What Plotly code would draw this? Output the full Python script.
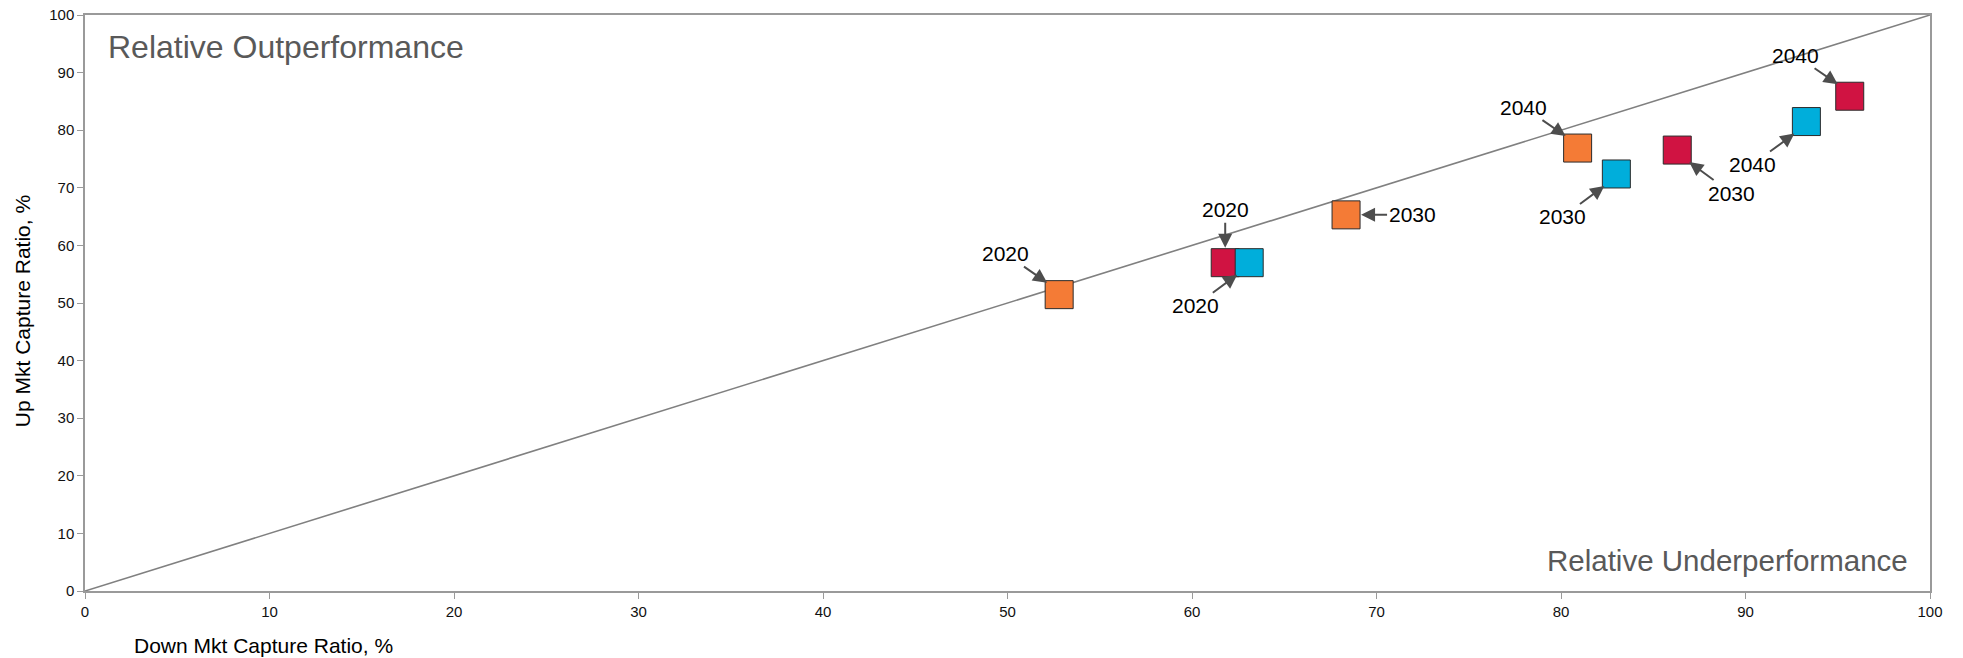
import plotly.graph_objects as go

# ---- data ----
years = ["2020", "2030", "2040"]
orange_down = [52.8, 68.35, 80.9]
orange_up = [51.45, 65.3, 76.9]
red_down = [61.8, 86.3, 95.65]
red_up = [57.0, 76.55, 85.9]
blue_down = [63.1, 83.0, 93.3]
blue_up = [57.0, 72.4, 81.5]
x_ticks = [0, 10, 20, 30, 40, 50, 60, 70, 80, 90, 100]
y_ticks = [0, 10, 20, 30, 40, 50, 60, 70, 80, 90, 100]

# ---- styles ----
ORANGE = "#F47B36"
RED = "#D01342"
BLUE = "#00AEDB"
FONT = "Liberation Sans, Arial, sans-serif"

# label placements (tip offset from marker centre, text offset from tip), px
label_pos = {
    "orange": [(-12, -12, -42, -29), (15, 0, 51, 0), (-12, -12, -42, -29)],
    "red": [(0, -15, 0, -38), (12, 12, 42, 31), (-12, -12, -42, -29)],
    "blue": [(-12, 12, -42, 31), (-12, 12, -42, 31), (-12, 12, -42, 31)],
}

series = [
    ("orange", "Series 1", orange_down, orange_up, ORANGE),
    ("red", "Series 2", red_down, red_up, RED),
    ("blue", "Series 3", blue_down, blue_up, BLUE),
]

fig = go.Figure()
annotations = []
for key, name, xs, ys, col in series:
    fig.add_trace(go.Scatter(
        x=xs, y=ys, mode="markers", name=name, text=years,
        marker=dict(symbol="square", size=28, color=col,
                    line=dict(color="#2b2b2b", width=1)),
        hovertemplate="%{text}: (%{x}, %{y})<extra>" + name + "</extra>",
    ))
    for i, yr in enumerate(years):
        dx, dy, ax, ay = label_pos[key][i]
        annotations.append(dict(
            x=xs[i], y=ys[i], xref="x", yref="y", text=yr,
            xshift=dx, yshift=-dy, ax=ax, ay=ay,
            showarrow=True, arrowhead=2, arrowsize=1.4, arrowwidth=2,
            arrowcolor="#4d4d4d", standoff=0,
            font=dict(family=FONT, size=21, color="#000000"),
        ))

annotations += [
    dict(text="Relative Outperformance", xref="paper", yref="paper",
         x=0.0114, y=0.944, xanchor="left", yanchor="middle", showarrow=False,
         font=dict(family=FONT, size=32, color="#595959")),
    dict(text="Relative Underperformance", xref="paper", yref="paper",
         x=0.989, y=0.0538, xanchor="right", yanchor="middle", showarrow=False,
         font=dict(family=FONT, size=29.5, color="#595959")),
    dict(text="Up Mkt Capture Ratio, %", xref="paper", yref="paper",
         x=-0.0341, y=0.486, xanchor="center", yanchor="middle", textangle=-90,
         showarrow=False, font=dict(family=FONT, size=21, color="#000000")),
    dict(text="Down Mkt Capture Ratio, %", xref="paper", yref="paper",
         x=0.097, y=-0.094, xanchor="center", yanchor="middle",
         showarrow=False, font=dict(family=FONT, size=21, color="#000000")),
]

fig.add_shape(type="line", xref="x", yref="y", x0=0, y0=0, x1=100, y1=100,
              line=dict(color="#808080", width=1.6), layer="below")

axis_common = dict(
    range=[0, 100], showgrid=False, zeroline=False,
    showline=True, mirror=True, linecolor="#9a9a9a", linewidth=1.5,
    ticks="outside", ticklen=6, tickwidth=1, tickcolor="#9a9a9a",
    tickfont=dict(family=FONT, size=15, color="#111111"),
    fixedrange=True,
)

fig.update_layout(
    width=1963, height=658,
    margin=dict(l=85, r=33, t=15, b=67, autoexpand=False),
    plot_bgcolor="white", paper_bgcolor="white",
    showlegend=False,
    xaxis=dict(tickvals=x_ticks, **axis_common),
    yaxis=dict(tickvals=y_ticks, **axis_common),
    annotations=annotations,
)

fig.write_html("out.html", config={"displayModeBar": False})
with open("out.html", "r", encoding="utf-8") as f:
    html = f.read()
html = html.replace("<head>", "<head><style>html,body{margin:0;padding:0;overflow:hidden;}</style>", 1)
with open("out.html", "w", encoding="utf-8") as f:
    f.write(html)
